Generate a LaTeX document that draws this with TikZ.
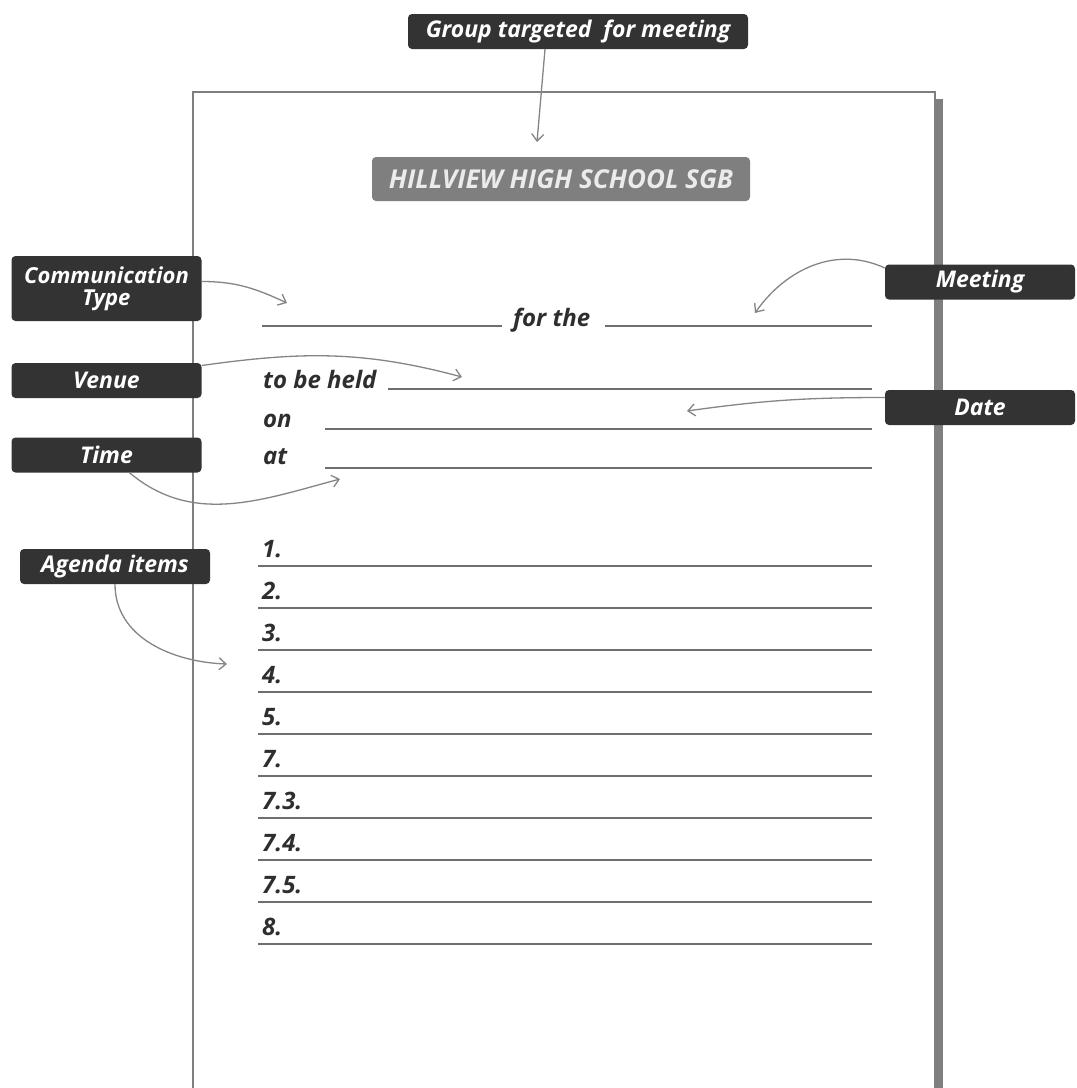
\documentclass[tikz,border=0pt]{standalone}
\usepackage{fontspec}
\setsansfont{Open Sans}
\usetikzlibrary{arrows.meta}

\definecolor{boxdark}{HTML}{333333}
\definecolor{boxgray}{HTML}{7F7F7F}
\definecolor{arrgray}{HTML}{858585}
\definecolor{rulegray}{HTML}{6E6E6E}
\definecolor{formtext}{HTML}{2E2E2E}

\begin{document}
\begin{tikzpicture}
  [x=1pt, y=-1pt,
   every node/.style={font=\sffamily\bfseries\itshape\fontsize{23}{23}\selectfont},
   tag/.style={fill=boxdark, text=white, rounded corners=4pt, inner sep=0pt,
               minimum width=190pt, minimum height=35pt, align=center},
   field/.style={text=formtext, anchor=base west, inner sep=0pt,
                 font=\sffamily\bfseries\itshape\fontsize{24}{24}\selectfont},
   rule/.style={draw=rulegray, line width=2pt},
   pointer/.style={draw=arrgray, line width=1.3pt, -{Straight Barb[length=7pt,width=12pt]}}]
  \useasboundingbox (0,0) rectangle (1077,1088);

  % the sheet and its shadow
  \fill [boxgray] (935,99) rectangle (943,1090);
  \draw [draw=boxgray, line width=1.2pt, fill=white] (193,92) rectangle (935,1090);

  % heading
  \node [fill=boxgray, text=white!92!black, rounded corners=4pt, inner sep=0pt,
         minimum width=378pt, minimum height=44pt,
         font=\sffamily\bfseries\itshape\fontsize{26}{26}\selectfont]
        (thill) at (561,179) {HILLVIEW HIGH SCHOOL SGB};

  % labels round the sheet
  \node [tag, minimum width=340pt] (tgroup) at (578,31.5) {Group targeted\ \ for meeting};
  \node [tag, minimum height=65pt, font=\sffamily\bfseries\itshape\fontsize{22}{22}\selectfont]
        (tcomm) at (106.5,288.5) {Communication\\Type};
  \node [tag] (tmeet)   at (980,282)   {Meeting};
  \node [tag] (tvenue)  at (106.5,380.5) {Venue};
  \node [tag] (tdate)   at (980,407.5) {Date};
  \node [tag] (ttime)   at (106.5,455) {Time};
  \node [tag] (tagenda) at (115,566.5) {Agenda items};

  % fields of the notice
  \draw [rule] (262,326) -- (502,326);
  \node [field] (ffor) at (513,326) {for the};
  \draw [rule] (605,326) -- (872,326);
  \node [field] (fheld) at (263,388) {to be held};
  \draw [rule] (388,389) -- (872,389);
  \node [field] (fon) at (263,427) {on};
  \draw [rule] (325,429) -- (872,429);
  \node [field] (fat) at (263,464) {at};
  \draw [rule] (325,468) -- (872,468);

  % agenda lines
  \foreach \lbl [count=\i] in {1.,2.,3.,4.,5.,7.,7.3.,7.4.,7.5.,8.} {
    \pgfmathsetmacro{\ly}{566+(\i-1)*42}
    \pgfmathsetmacro{\ty}{\ly-9}
    \draw [rule] (258,\ly) -- (872,\ly);
    \node [field] (item\i) at (262,\ty) {\lbl};
  }

  % arrow ends
  \coordinate (agroup)  at (537,142);
  \coordinate (acomm)   at (287,303);
  \coordinate (ameet)   at (755,313);
  \coordinate (avenue)  at (462,377);
  \coordinate (adate)   at (687,411);
  \coordinate (atime)   at (340,479);
  \coordinate (aagenda) at (227,664);

  % arrows
  \draw [pointer] ([xshift=-33pt]tgroup.south) -- (agroup);
  \draw [pointer] ([yshift=7pt]tcomm.east) to [out=0, in=155] (acomm);
  \draw [pointer] ([yshift=14pt]tmeet.west) to [out=155, in=55] (ameet);
  \draw [pointer] ([yshift=15pt]tvenue.east) to [out=8, in=165] (avenue);
  \draw [pointer] ([yshift=10pt]tdate.west) to [out=180, in=8] (adate);
  \draw [pointer] ([xshift=23pt]ttime.south) to [out=-40, in=195] (atime);
  \draw [pointer] (tagenda.south) to [out=-90, in=178] (aagenda);
\end{tikzpicture}
\end{document}
